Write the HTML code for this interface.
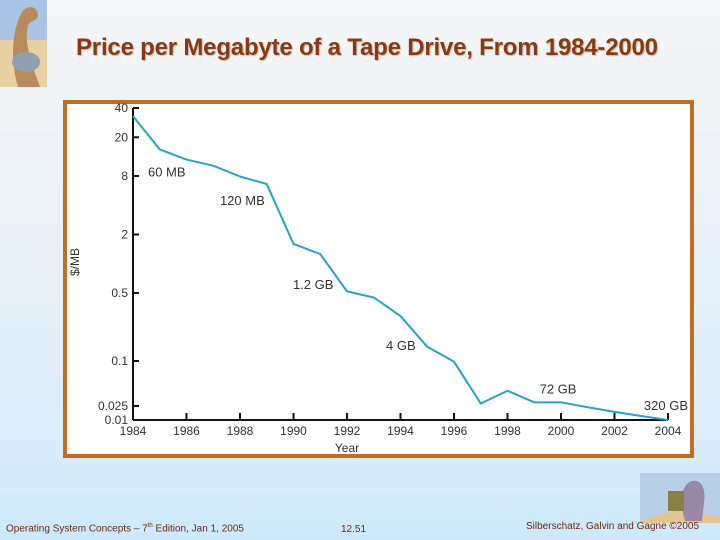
<!DOCTYPE html>
<html><head><meta charset="utf-8"><style>
body{margin:0;width:720px;height:540px;overflow:hidden;font-family:"Liberation Sans",sans-serif;}
#slide{position:relative;width:720px;height:540px;background:linear-gradient(#f5f6f7 0%,#f0f3f6 20%,#dfeef8 75%,#cce9fb 100%);}
.t{position:absolute;white-space:nowrap;}
</style></head><body>
<div id="slide">
<svg class="t" style="left:0;top:0" width="47" height="87">
<rect width="47" height="87" fill="#e8d0a0"/><rect width="47" height="40" fill="#a9c4e4"/>
<path d="M18 87 C10 60 12 30 22 12 C28 4 38 6 38 16 C36 22 30 20 28 26 C24 40 30 60 40 87Z" fill="#b88a5c"/>
<ellipse cx="26" cy="62" rx="14" ry="10" fill="#8fa0b0"/></svg>
<div class="t" style="left:76px;top:34px;font-size:24px;font-weight:bold;color:#8a3a12;text-shadow:1px 1px 1px #c8b8a8;letter-spacing:-0.2px;">Price per Megabyte of a Tape Drive, From 1984-2000</div>
<div style="position:absolute;left:63px;top:100px;width:623px;height:350px;border:4px solid #c06e22;background:#fff;"></div>
<svg id="chart" class="t" style="left:0;top:0" width="720" height="540"></svg>
<svg class="t" style="left:640px;top:473px" width="80" height="50">
<rect width="80" height="50" fill="#b8cfe8"/><path d="M0 50 C20 36 50 36 80 44 L80 50Z" fill="#e2c592"/>
<path d="M45 48 C40 30 40 12 52 8 C62 6 66 16 64 30 L62 48Z" fill="#9a88a8"/><rect x="28" y="18" width="16" height="20" fill="#8a8040"/></svg>
<div class="t" style="left:6px;top:523px;font-size:10px;color:#6a2a10;">Operating System Concepts – 7<sup style="font-size:6px">th</sup> Edition, Jan 1, 2005</div>
<div class="t" style="left:341px;top:524px;font-size:10px;color:#6a2a10;">12.51</div>
<div class="t" style="left:526px;top:521px;font-size:10px;color:#6a2a10;">Silberschatz, Galvin and Gagne ©2005</div>
</div>
<script>
const years=[1984,1985,1986,1987,1988,1989,1990,1991,1992,1993,1994,1995,1996,1997,1998,1999,2000,2001,2002,2003,2004];
const prices=[33,15,11.8,10.2,7.9,6.6,1.6,1.26,0.52,0.45,0.29,0.14,0.098,0.027,0.04,0.028,0.028,0.023,0.017,0.013,0.01];
const yTicks=[40,20,8,2,0.5,0.1,0.025,0.01];
const yTickLabels=["40","20","8","2","0.5","0.1","0.025","0.01"];
const xTicks=[1984,1986,1988,1990,1992,1994,1996,1998,2000,2002,2004];
const annotations=["60 MB","120 MB","1.2 GB","4 GB","72 GB","320 GB"];
const annYears=[1984.56,1987.25,1989.98,1993.46,1999.2,2003.1];
const annPrices=[7.9,4,0.55,0.13,0.037,0.019];
const X0=133,X1=668,YT=108,YB=420;
function xs(v){return X0+(v-1984)/(2004-1984)*(X1-X0);}
// log scale with the figure's compressed bottom (0.025, 0.01)
const yKnotV=[40,0.1,0.025,0.01],yKnotF=[0,253/312,298/312,1];
function ys(v){const l=Math.log10(v);
 for(let i=0;i<yKnotV.length-1;i++){const a=Math.log10(yKnotV[i]),b=Math.log10(yKnotV[i+1]);
  if(l>=b||i==yKnotV.length-2){const f=yKnotF[i]+(a-l)/(a-b)*(yKnotF[i+1]-yKnotF[i]);return YT+f*(YB-YT);}}
}
const svg=document.getElementById('chart');const NS='http://www.w3.org/2000/svg';
const FF='Liberation Sans, sans-serif';
function el(t,a){const e=document.createElementNS(NS,t);for(const k in a)e.setAttribute(k,a[k]);svg.appendChild(e);return e;}
let e=el('line',{x1:X0,y1:YT,x2:X0,y2:YB,stroke:'#111','stroke-width':2});


e=el('line',{x1:X0,y1:YB,x2:X1,y2:YB,stroke:'#111','stroke-width':2});


yTicks.forEach((v,i)=>{const y=ys(v);
 const t=el('line',{x1:X0,y1:y,x2:X0+6,y2:y,stroke:'#111','stroke-width':2});
 
 
 const lb=el('text',{x:X0-5,y:y+4,'text-anchor':'end','font-size':12,fill:'#333','font-family':FF});
 lb.textContent=yTickLabels[i];
 
 
});
xTicks.forEach(v=>{const x=xs(v);
 const t=el('line',{x1:x,y1:YB,x2:x,y2:YB-7,stroke:'#111','stroke-width':2});
 
 
 const lb=el('text',{x:x,y:YB+15,'text-anchor':'middle','font-size':12,fill:'#333','font-family':FF});
 lb.textContent=v;
 
 
});
let yt=el('text',{x:347,y:452,'text-anchor':'middle','font-size':12,fill:'#333','font-family':FF});
yt.textContent='Year';


yt=el('text',{x:0,y:0,'text-anchor':'middle','font-size':12,fill:'#333','font-family':FF,transform:'translate(79,262) rotate(-90)'});
yt.textContent='$/MB';


const pts=years.map((y,i)=>xs(y)+','+ys(prices[i])).join(' ');
const line=el('polyline',{points:pts,fill:'none',stroke:'#2aa0cc','stroke-width':2,'stroke-linejoin':'round'});


annotations.forEach((a,i)=>{
 const t=el('text',{x:xs(annYears[i]),y:ys(annPrices[i]),'font-size':13,fill:'#333','font-family':FF});
 t.textContent=a;
 
 
});
</script>
</body></html>
